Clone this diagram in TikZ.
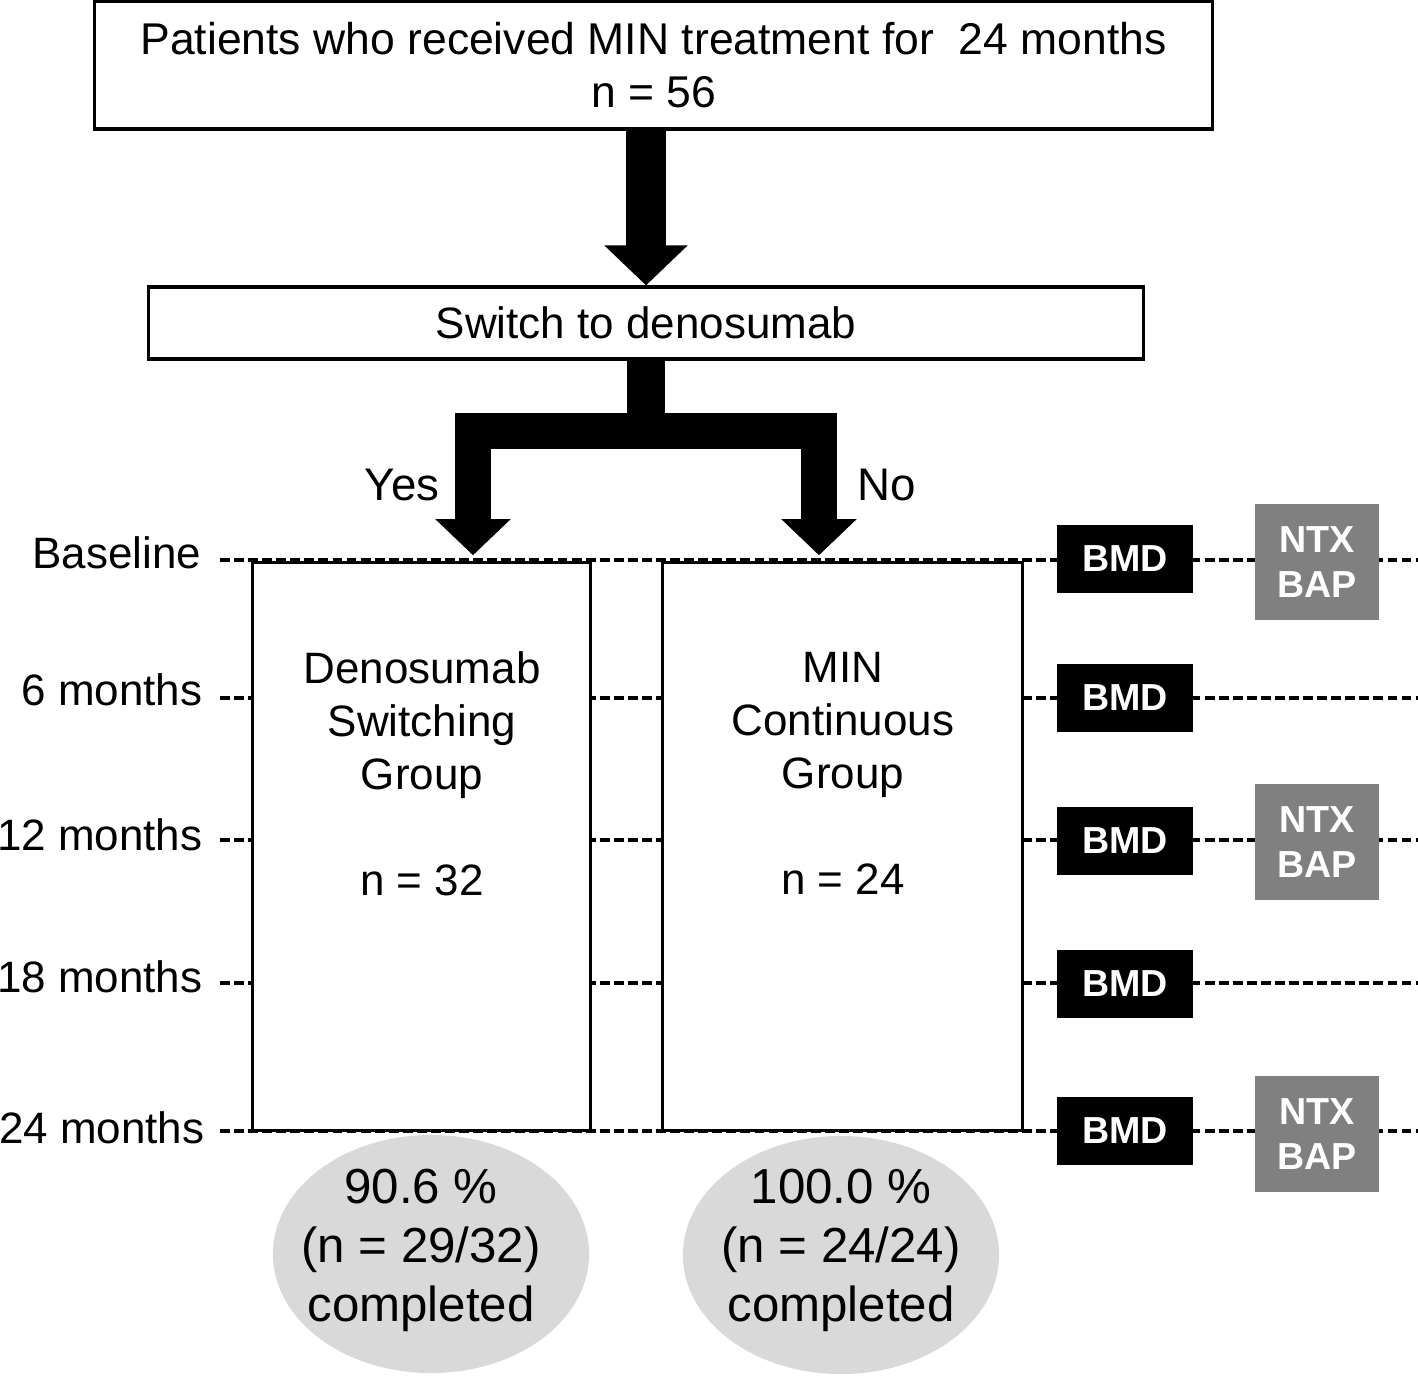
\documentclass[tikz,border=0pt]{standalone}
\usepackage{fontspec}
\setmainfont{Liberation Sans}
\usetikzlibrary{arrows.meta}

\definecolor{ntxgray}{RGB}{128,128,128}
\definecolor{endgray}{RGB}{217,217,217}

\tikzset{
  txt/.style={font=\fontsize{12.5}{15.1}\selectfont,align=center},
  bigtxt/.style={font=\fontsize{14}{16.8}\selectfont,align=center},
  flowbox/.style={txt,draw=black,line width=0.9pt,fill=white,inner sep=0pt},
  timelabel/.style={txt,anchor=east,inner sep=0pt},
  timeline/.style={black,line width=0.95pt,dash pattern=on 2.8pt off 1.2pt},
  bmdbox/.style={fill=black,text=white,font=\bfseries\fontsize{10.7}{12.8}\selectfont,
    minimum width=1.35cm,minimum height=0.68cm,inner sep=0pt},
  ntxbox/.style={fill=ntxgray,text=white,font=\bfseries\fontsize{10.7}{12.8}\selectfont,
    align=center,minimum width=1.24cm,minimum height=1.15cm,inner sep=0pt},
  bigarrow/.style={line width=0.39cm,-{Triangle[length=0.4cm,width=0.81cm]}},
  forkarrow/.style={line width=0.35cm,line join=miter,
    {Triangle[length=0.36cm,width=0.73cm]}-{Triangle[length=0.36cm,width=0.73cm]}},
}

\begin{document}
\begin{tikzpicture}[x=0.01cm,y=-0.01cm]
\useasboundingbox (0,0) rectangle (1418,1376);
\coordinate (edge) at (1418,0);

% time lines
	\coordinate (r0) at (220,560);
	\coordinate (r6) at (220,698);
	\coordinate (r12) at (220,840);
	\coordinate (r18) at (220,983);
	\coordinate (r24) at (220,1131);
	\draw[timeline] (r0) -- (r0 -| edge);
	\draw[timeline] (r6) -- (r6 -| edge);
	\draw[timeline] (r12) -- (r12 -| edge);
	\draw[timeline] (r18) -- (r18 -| edge);
	\draw[timeline] (r24) -- (r24 -| edge);

	\node[timelabel] (t0) at (202,553) {Baseline};
	\node[timelabel] (t6) at (203,690) {6 months};
	\node[timelabel] (t12) at (203,835) {12 months};
	\node[timelabel] (t18) at (203,977) {18 months};
	\node[timelabel] (t24) at (205,1128) {24 months};

% boxes
	\node[flowbox,font=\fontsize{12.65}{15.1}\selectfont,minimum width=11.17cm,minimum height=1.28cm] (top) at (653.5,65)
		{Patients who received MIN treatment for\ \ 24 months\\n = 56};
	\node[flowbox,minimum width=9.94cm,minimum height=0.72cm] (switch) at (646,323)
		{Switch to denosumab};

	\node[flowbox,minimum width=3.37cm,minimum height=5.67cm] (dsg) at (421.5,846.5) {};
	\node[flowbox,minimum width=3.59cm,minimum height=5.67cm] (mcg) at (842.5,846.5) {};
	\node[txt] (dsgtxt) at (422,773.5) {Denosumab\\Switching\\Group\\[15.1pt]n = 32};
	\node[txt] (mcgtxt) at (843,773.5) {MIN\\Continuous\\Group\\[15.1pt]n = 24};

% measurements
	\node[bmdbox] (bmd0) at (1125,559) {BMD};
	\node[bmdbox] (bmd6) at (1125,698) {BMD};
	\node[bmdbox] (bmd12) at (1125,841) {BMD};
	\node[bmdbox] (bmd18) at (1125,984) {BMD};
	\node[bmdbox] (bmd24) at (1125,1131) {BMD};

	\node[ntxbox] (ntx0) at (1317,562) {NTX\\BAP};
	\node[ntxbox] (ntx12) at (1317,842) {NTX\\BAP};
	\node[ntxbox] (ntx24) at (1317,1134) {NTX\\BAP};

% completion
	\fill[endgray] (431,1254) ellipse [x radius=1.58cm,y radius=1.19cm];
	\fill[endgray] (841,1255) ellipse [x radius=1.58cm,y radius=1.19cm];
	\node[bigtxt] (dsgend) at (421,1250) {90.6 \%\\(n = 29/32)\\completed};
	\node[bigtxt] (mcgend) at (841,1250) {100.0 \%\\(n = 24/24)\\completed};

%Links
	\coordinate (splitL) at (473,431);
	\coordinate (splitR) at (819,431);
	\draw[bigarrow] (switch.north |- top.south) -- (switch.north);
	\draw[line width=0.38cm] (switch.south) -- (switch.south |- splitL);
	\draw[forkarrow,shorten <=0.06cm,shorten >=0.06cm] (dsg.north -| splitL) -- (splitL) -- (splitR) -- (mcg.north -| splitR);

	\node[txt,font=\fontsize{13}{15}\selectfont] (yes) at (402,485) {Yes};
	\node[txt,font=\fontsize{13}{15}\selectfont] (no) at (887,485) {No};
\end{tikzpicture}
\end{document}
